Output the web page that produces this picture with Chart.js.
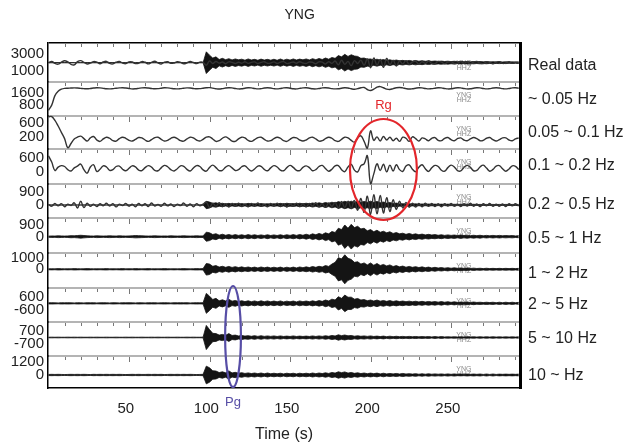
<!DOCTYPE html>
<html>
<head>
<meta charset="utf-8">
<script src="https://cdn.jsdelivr.net/npm/chart.js@4.4.0/dist/chart.umd.min.js"></script>
<style>
  html, body { margin: 0; padding: 0; background: #fff; }
  #wrap { width: 627px; height: 444px; }
</style>
</head>
<body>
<div id="wrap"><canvas id="myChart"></canvas></div>
<script>
// DATA

// one sample every 2 s, from t = 2 s to t = 294 s
var t0 = 2, dt = 2, nSamples = 147;

var names = ['Real data', '~ 0.05 Hz', '0.05 ~ 0.1 Hz', '0.1 ~ 0.2 Hz', '0.2 ~ 0.5 Hz',
  '0.5 ~ 1 Hz', '1 ~ 2 Hz', '2 ~ 5 Hz', '5 ~ 10 Hz', '10 ~ Hz'];

// tick labels of each panel (counts)
var panelTicks = [[3000, 1000], [1600, 800], [600, 200], [600, 0], [900, 0],
  [900, 0], [1000, 0], [600, -600], [700, -700], [1200, 0]];

var timeTicks = [50, 100, 150, 200, 250];

// trace offsets (counts)
var offsets = [1960, 1940, 143, 152, 0, 0, 0, 0, 0, 0];

// low frequency part of the traces (counts around offset)
var waveReal = [
  0, 150, -80, -180, 60, 240, 100, -200, -260, 120,
  250, 40, -150, -60, 130, 60, -120, 80, 160, -90,
  -150, 60, 140, -40, -120, 100, 80, -110, -60, 130,
  50, -140, 40, 170, -30, -150, 60, 120, -80, -40,
  110, 40, -130, -20, 140, 20, -110, 60, 30, -300,
  200, -100, 150, -50, 80, -120, 100, 40, -90, 60,
  -60, 110, -80, 40, 90, -100, 30, 120, -70, -40,
  100, -80, 60, 130, -110, -30, 90, -60, 120, -40,
  -100, 80, 40, -120, 100, 60, -150, 120, -80, 200,
  -250, 300, -200, 150, -350, 250, -100, 300, -300, 450,
  -600, 550, -300, 400, -550, 500, -250, 300, -400, 200,
  -150, 250, -200, 100, 150, -180, 120, -100, 200, -80,
  -120, 150, 80, -140, 60, 120, -100, -60, 130, -50,
  100, -120, 80, 140, -60, -110, 90, 50, -130, 70,
  120, -90, -40, 110, -70, 60, -50];

var wave005 = [
  -1500, -1150, -500, -200, -60, 0, 10, 20, 30, 20,
  0, -20, -30, -10, 20, 40, 30, 0, -30, -40,
  -20, 10, 30, 40, 20, -10, -40, -30, 0, 30,
  40, 20, -10, -30, -20, 10, 40, 30, 0, -30,
  -40, -20, 10, 30, 20, -10, -30, -20, 10, 40,
  50, 10, -30, -50, -20, 20, 40, 30, -10, -40,
  -30, 10, 40, 30, -10, -40, -20, 20, 40, 20,
  -20, -40, -10, 30, 40, 10, -30, -40, 0, 30,
  40, 10, -30, -40, -10, 30, 40, 20, -20, -40,
  -30, 10, 40, 20, -30, -60, -20, 40, 60, -80,
  -150, -60, 80, 120, 40, -50, -80, -20, 40, 60,
  30, -20, -50, -30, 10, 40, 30, -10, -40, -20,
  10, 40, 30, -10, -40, -30, 10, 40, 30, -10,
  -40, -30, 10, 40, 30, -10, -40, -20, 20, 40,
  20, -20, -40, -10, 30, 40, 10];

var wave01 = [
  640, 650, 540, 380, 200, 20, -240, -120, 10, 60,
  90, 20, -50, 40, 80, -20, -60, 10, 60, 30,
  -40, -50, 20, 60, 30, -30, -50, 0, 50, 40,
  -20, -60, -10, 50, 60, 0, -50, -30, 30, 60,
  20, -40, -50, 10, 60, 40, -20, -50, 0, 60,
  70, 10, -60, -40, 30, 70, 20, -50, -60, 10,
  60, 40, -30, -60, -10, 50, 60, 0, -50, -40,
  20, 60, 30, -40, -60, 0, 50, 40, -20, -50,
  -20, 40, 60, 10, -50, -40, 20, 60, 30, -40,
  -60, 0, 60, 40, -30, -80, 40, 100, -60, -250,
  240, -30, 70, -50, 80, -20, 60, -40, 30, -60,
  60, 30, -60, 70, 20, -50, 40, 10, -40, 30,
  50, -30, -40, 30, 50, -10, -40, 20, 40, -20,
  -40, 10, 50, 20, -40, -30, 30, 50, -10, -50,
  -10, 40, 40, -20, -40, 10, 40];

var wave02 = [
  560, 280, -100, 50, 120, 80, -60, -120, 20, 100,
  190, -60, -220, 60, 160, -140, -40, 110, 60, -90,
  -60, 80, 100, -40, -110, 0, 110, 60, -80, -100,
  30, 120, 50, -90, -110, 20, 130, 70, -60, -120,
  -20, 110, 90, -50, -120, 10, 120, 80, -70, -130,
  40, 140, 30, -100, -90, 50, 120, 20, -100, -60,
  70, 110, -20, -120, -30, 100, 90, -50, -110, 20,
  120, 60, -80, -110, 30, 130, 40, -90, -100, 40,
  110, 30, -110, -60, 80, 130, -10, -130, -40, 110,
  120, -60, -150, 60, 180, -80, -160, 120, 200, 560,
  -680, -250, 200, -100, 180, -160, 140, -120, 160, -60,
  -140, 100, 150, -40, -150, 50, 160, -20, -140, 20,
  130, 80, -90, -130, 30, 140, 60, -100, -120, 40,
  130, 40, -110, -90, 60, 140, 10, -130, -50, 100,
  120, -20, -130, -30, 110, 90, -60];

var wave05 = [
  50, -80, 110, -60, 90, -120, 60, -30, 150, -200,
  250, -180, 120, -90, 60, -110, 80, -50, 120, -70,
  90, -130, 60, -40, 110, -80, 50, -120, 100, -60,
  80, -100, 140, -70, 40, -90, 120, -60, 70, -110,
  60, -40, 130, -90, 70, -120, 90, -50, 60, 200,
  -180, 120, -90, 150, -110, 80, -140, 100, -60, 120,
  -100, 70, -130, 110, -80, 140, -90, 60, -120, 100,
  -70, 130, -100, 90, -140, 70, -60, 120, -110, 80,
  -130, 100, -70, 150, -120, 90, -160, 140, -100, 180,
  -200, 240, -180, 260, -220, 300, -350, 450, -500, 600,
  -650, 700, -600, 650, -550, 500, -450, 350, -300, 250,
  -200, 180, -150, 120, -140, 100, -120, 130, -90, 110,
  -100, 80, -120, 90, -70, 110, -80, 60, -100, 90,
  -70, 120, -90, 70, -110, 80, -60, 100, -80, 60,
  -90, 70, -100, 80, -60, 90, -70];

// high frequency part: half width of the dark band (counts)
var envReal = [
  0, 0, 0, 0, 0, 0, 0, 0, 0, 0,
  0, 0, 0, 0, 0, 0, 0, 0, 0, 0,
  0, 0, 0, 0, 0, 0, 0, 0, 0, 0,
  0, 0, 0, 0, 0, 0, 0, 0, 0, 0,
  0, 0, 0, 0, 0, 0, 0, 0, 0, 1300,
  900, 550, 700, 380, 520, 360, 480, 330, 450, 340,
  420, 300, 450, 320, 400, 290, 430, 310, 400, 300,
  410, 290, 440, 300, 420, 310, 450, 320, 430, 340,
  450, 330, 480, 360, 500, 380, 560, 420, 620, 520,
  850, 700, 1000, 750, 950, 800, 750, 520, 560, 420,
  450, 320, 420, 300, 380, 260, 350, 240, 320, 220,
  280, 200, 270, 190, 260, 180, 240, 170, 220, 160,
  200, 150, 190, 140, 180, 130, 170, 120, 160, 120,
  150, 110, 140, 100, 140, 100, 130, 90, 120, 90,
  110, 90, 110, 80, 100, 80, 100];

var env05 = [
  0, 0, 0, 0, 0, 0, 0, 0, 0, 0,
  0, 0, 0, 0, 0, 0, 0, 0, 0, 0,
  0, 0, 0, 0, 0, 0, 0, 0, 0, 0,
  0, 0, 0, 0, 0, 0, 0, 0, 0, 0,
  0, 0, 0, 0, 0, 0, 0, 0, 0, 250,
  200, 110, 150, 80, 120, 70, 110, 60, 100, 70,
  100, 60, 110, 70, 90, 60, 100, 70, 90, 60,
  90, 60, 110, 70, 120, 80, 100, 70, 120, 80,
  120, 80, 140, 90, 150, 100, 170, 110, 190, 130,
  230, 170, 250, 180, 260, 170, 260, 180, 240, 190,
  260, 180, 240, 160, 200, 130, 170, 100, 130, 80,
  90, 60, 90, 60, 80, 50, 70, 50, 70, 50,
  60, 40, 60, 40, 60, 40, 50, 40, 50, 40,
  50, 30, 50, 30, 40, 30, 40, 30, 40, 30,
  40, 30, 40, 30, 40, 30, 40];

var env1 = [
  40, 60, 50, 70, 60, 50, 60, 80, 70, 90,
  110, 90, 70, 60, 50, 70, 60, 50, 60, 70,
  60, 50, 70, 60, 50, 60, 70, 90, 80, 70,
  60, 50, 60, 70, 60, 50, 60, 50, 70, 60,
  50, 60, 70, 60, 50, 60, 70, 60, 60, 350,
  300, 170, 230, 120, 190, 110, 170, 100, 160, 100,
  150, 90, 160, 100, 150, 90, 140, 90, 150, 90,
  140, 90, 150, 90, 150, 100, 160, 100, 170, 110,
  190, 120, 220, 150, 250, 170, 300, 220, 400, 320,
  650, 550, 900, 650, 950, 700, 800, 600, 650, 450,
  550, 380, 500, 340, 420, 300, 380, 250, 320, 220,
  270, 180, 250, 170, 220, 150, 200, 140, 180, 130,
  160, 110, 150, 100, 140, 100, 130, 90, 130, 90,
  120, 80, 110, 80, 110, 70, 100, 70, 100, 70,
  100, 70, 90, 70, 90, 60, 80];

var env2 = [
  40, 50, 40, 60, 50, 40, 50, 40, 60, 50,
  40, 50, 60, 50, 40, 50, 40, 50, 60, 40,
  50, 40, 50, 60, 40, 50, 40, 60, 50, 40,
  50, 60, 40, 50, 40, 50, 60, 50, 40, 50,
  40, 50, 60, 50, 40, 50, 60, 50, 60, 500,
  450, 260, 320, 190, 260, 170, 250, 160, 230, 150,
  210, 140, 200, 130, 190, 120, 200, 130, 190, 120,
  180, 120, 190, 110, 180, 120, 190, 120, 200, 140,
  210, 150, 240, 170, 260, 200, 320, 250, 450, 600,
  1000, 900, 1250, 950, 850, 600, 650, 450, 550, 380,
  550, 350, 500, 330, 420, 290, 380, 240, 320, 210,
  280, 180, 250, 170, 230, 150, 210, 140, 190, 120,
  170, 110, 150, 100, 140, 90, 130, 90, 120, 80,
  110, 70, 100, 70, 90, 60, 90, 60, 80, 60,
  80, 60, 80, 60, 80, 60, 80];

var env5 = [
  50, 60, 50, 40, 60, 50, 60, 50, 40, 60,
  50, 40, 60, 50, 60, 40, 50, 60, 50, 40,
  60, 50, 40, 60, 50, 60, 50, 40, 60, 50,
  40, 60, 50, 60, 40, 50, 60, 50, 40, 60,
  50, 60, 50, 60, 40, 50, 60, 50, 60, 900,
  650, 350, 450, 230, 320, 220, 360, 200, 260, 170,
  240, 160, 230, 150, 220, 140, 230, 150, 220, 140,
  210, 140, 220, 130, 200, 140, 210, 130, 220, 150,
  210, 150, 230, 160, 250, 180, 300, 220, 380, 300,
  600, 450, 750, 550, 560, 380, 440, 300, 340, 240,
  300, 210, 300, 200, 260, 180, 250, 170, 230, 160,
  210, 150, 200, 140, 190, 130, 180, 120, 170, 120,
  160, 110, 160, 100, 150, 90, 140, 90, 120, 90,
  120, 80, 120, 80, 100, 70, 100, 70, 100, 60,
  100, 60, 100, 60, 100, 60, 90];

var env10 = [
  30, 40, 30, 40, 30, 30, 40, 30, 40, 30,
  40, 30, 30, 40, 30, 40, 30, 30, 40, 30,
  30, 40, 30, 30, 40, 30, 40, 30, 30, 40,
  30, 30, 40, 30, 40, 30, 30, 40, 30, 30,
  40, 30, 30, 40, 30, 40, 30, 30, 40, 1300,
  850, 450, 420, 260, 330, 240, 420, 220, 260, 170,
  220, 150, 200, 130, 200, 120, 190, 120, 170, 120,
  170, 110, 170, 110, 150, 110, 170, 110, 150, 110,
  150, 110, 170, 110, 170, 120, 190, 130, 220, 160,
  290, 200, 270, 180, 220, 140, 190, 130, 170, 120,
  170, 110, 150, 100, 150, 90, 140, 90, 130, 90,
  120, 80, 120, 80, 110, 70, 100, 70, 100, 60,
  100, 60, 100, 60, 80, 60, 80, 60, 80, 60,
  80, 60, 80, 50, 80, 50, 80, 50, 80, 50,
  70, 50, 70, 50, 70, 50, 70];

var envHi = [
  50, 60, 50, 60, 50, 40, 50, 60, 50, 60,
  50, 60, 50, 40, 60, 50, 60, 50, 60, 50,
  60, 50, 60, 50, 40, 50, 60, 50, 60, 50,
  50, 60, 50, 60, 50, 60, 40, 50, 60, 50,
  60, 50, 60, 50, 60, 50, 40, 50, 60, 800,
  650, 380, 360, 220, 290, 200, 370, 190, 240, 160,
  210, 140, 190, 130, 180, 120, 180, 110, 180, 110,
  160, 110, 160, 100, 160, 110, 160, 100, 160, 110,
  160, 110, 180, 120, 180, 130, 200, 140, 230, 170,
  290, 210, 280, 170, 230, 150, 200, 130, 180, 120,
  170, 120, 170, 100, 160, 100, 140, 100, 140, 90,
  140, 90, 120, 80, 120, 70, 110, 70, 110, 70,
  100, 70, 100, 60, 100, 60, 100, 60, 80, 60,
  90, 60, 90, 60, 90, 50, 90, 50, 90, 50,
  80, 60, 80, 60, 80, 60, 80];

var waves = [waveReal, wave005, wave01, wave02, wave05, null, null, null, null, null];
var envs = [envReal, null, null, null, env05, env1, env2, env5, env10, envHi];


// LAYOUT

var panelRange = [[-356, 4320], [48, 2373], [-134, 809], [-551, 1016], [-880, 1421],
  [-1254, 1438], [-1612, 1405], [-1682, 1385], [-1992, 1669], [-1173, 1714]];
var panelWeight = [39, 34, 33, 35, 34, 35, 35, 34, 34, 32];
var rowSpan = 345;
var namePos = [322, 288, 255, 222, 183, 149, 114, 83, 49, 12];

var times = [];
for (var k = 0; k < nSamples; k++) times.push(t0 + k * dt);

function pts(i, sign, arr) {
  return times.map(function(t, k) {
    return { x: t, y: offsets[i] + sign * arr[k] };
  });
}

var datasets = [];
for (var i = 0; i < names.length; i++) {
  if (waves[i]) {
    datasets.push({
      data: pts(i, 1, waves[i]), yAxisID: 'y' + i,
      borderColor: '#333', borderWidth: 1.4, tension: 0.4,
      pointRadius: 0, fill: false, clip: 8
    });
  }
  if (envs[i]) {
    datasets.push({
      data: pts(i, 1, envs[i]), yAxisID: 'y' + i,
      borderColor: '#111', borderWidth: 0.8, tension: 0,
      backgroundColor: '#141414', fill: '+1', pointRadius: 0, clip: 8
    });
    datasets.push({
      data: pts(i, -1, envs[i]), yAxisID: 'y' + i,
      borderColor: '#111', borderWidth: 0.8, tension: 0,
      pointRadius: 0, fill: false, clip: 8
    });
  }
}


// SCALES

var scales = {
  x: {
    type: 'linear', min: 1.7, max: 294.8,
    afterBuildTicks: function(axis) {
      axis.ticks = timeTicks.map(function(v) { return { value: v }; });
    },
    afterFit: function(axis) { axis.height = 56; },
    grid: { display: false, drawTicks: false },
    border: { color: '#000', width: 1.5 },
    ticks: { padding: 12, font: { size: 15 }, color: '#222', maxRotation: 0 },
    title: { display: true, text: 'Time (s)', font: { size: 16 }, color: '#222',
      padding: { top: 0, bottom: 0 } }
  },
  yr: {
    type: 'linear', position: 'right', min: 0, max: rowSpan,
    afterBuildTicks: function(axis) {
      axis.ticks = namePos.map(function(v) { return { value: v }; });
    },
    afterFit: function(axis) { axis.width = 107; },
    grid: { display: false, drawTicks: false },
    border: { color: '#000', width: 3 },
    ticks: { autoSkip: false, padding: 8, font: { size: 16 }, color: '#222',
      callback: function(v, idx) { return names[idx]; } }
  }
};

// left boxes of one stack are placed last-added on top, so add the bottom panel first
for (var p = panelTicks.length - 1; p >= 0; p--) {
  (function(i) {
    var tk = panelTicks[i], hi = panelRange[i][1];
    scales['y' + i] = {
      type: 'linear', position: 'left', stack: 'panels', stackWeight: panelWeight[i],
      min: panelRange[i][0], max: hi,
      afterBuildTicks: function(axis) {
        axis.ticks = [{ value: tk[0] }, { value: tk[1] }, { value: hi }];
      },
      afterFit: function(axis) { axis.width = 48; },
      grid: {
        drawTicks: false,
        color: function(c) {
          if (!c.tick || c.tick.value !== hi) return 'rgba(0,0,0,0)';
          return i === 0 ? '#000' : '#b4b4b4';
        },
        lineWidth: i === 0 ? 1.5 : 2
      },
      border: { color: '#000', width: 1.5 },
      ticks: { autoSkip: false, padding: 4, font: { size: 15 }, color: '#222',
        callback: function(v) { return v === hi ? '' : v; } }
    };
  })(p);
}


// MARKS: panel ticks, station labels, phase rings, title

var rgRing = { t: 210, dt: 20.8, row: 218.5, drow: 50.5, label: 'Rg', labelRow: 283, color: '#e3262b' };
var pgRing = { t: 116.6, dt: 4.9, row: 51.5, drow: 50.5, label: 'Pg', labelRow: -14, color: '#574ea6' };
var titleText = 'YNG';

var marks = {
  id: 'marks',
  beforeDatasetsDraw: function(chart) {
    var ctx = chart.ctx, xs = chart.scales.x;
    ctx.save();
    ctx.strokeStyle = '#777';
    ctx.lineWidth = 1;
    for (var i = 0; i < names.length; i++) {
      var top = chart.scales['y' + i].top;
      for (var t = 2; t < 294; t += 10) {
        var x = Math.round(xs.getPixelForValue(t)) + 0.5;
        var len = (t - 2) % 50 === 0 ? 5 : 3;
        ctx.beginPath();
        ctx.moveTo(x, top + 1);
        ctx.lineTo(x, top + 1 + len);
        ctx.stroke();
      }
      // station / channel tag
      ctx.fillStyle = '#8a8a8a';
      ctx.font = '7px "Liberation Sans", Arial, sans-serif';
      ctx.textAlign = 'center';
      ctx.textBaseline = 'middle';
      var xt = xs.getPixelForValue(260);
      var dy = i === 0 ? 20 : 13;
      ctx.fillText('YNG', xt, top + dy);
      ctx.fillText('HHZ', xt, top + dy + 5);
    }
    ctx.restore();
  },
  afterDatasetsDraw: function(chart) {
    var ctx = chart.ctx, xs = chart.scales.x, ys = chart.scales.yr;
    [rgRing, pgRing].forEach(function(r) {
      var cx = xs.getPixelForValue(r.t);
      var rx = xs.getPixelForValue(r.t + r.dt) - cx;
      var cy = ys.getPixelForValue(r.row);
      var ry = cy - ys.getPixelForValue(r.row + r.drow);
      ctx.save();
      ctx.strokeStyle = r.color;
      ctx.lineWidth = 2.2;
      ctx.beginPath();
      ctx.ellipse(cx, cy, rx, ry, 0, 0, 2 * Math.PI);
      ctx.stroke();
      ctx.fillStyle = r.color;
      ctx.font = '13px "Liberation Sans", Arial, sans-serif';
      ctx.textAlign = 'center';
      ctx.textBaseline = 'middle';
      ctx.fillText(r.label, cx, ys.getPixelForValue(r.labelRow));
      ctx.restore();
    });
    // title, centred a little left of the canvas middle as in the figure
    ctx.save();
    ctx.fillStyle = '#222';
    ctx.font = '14px "Liberation Sans", Arial, sans-serif';
    ctx.textAlign = 'center';
    ctx.textBaseline = 'middle';
    ctx.fillText(titleText, xs.getPixelForValue(158), 15);
    ctx.restore();
  }
};


// CHART

Chart.defaults.font.family = '"Liberation Sans", Arial, sans-serif';

var ctx = document.getElementById('myChart').getContext('2d');

var chart = new Chart(ctx, {
  type: 'line',
  data: { datasets: datasets },
  options: {
    responsive: true,
    maintainAspectRatio: false,
    animation: false,
    layout: { padding: { left: 0, right: 0, top: 43, bottom: 0 } },
    plugins: {
      legend: { display: false },
      tooltip: { enabled: false },
      title: { display: false }
    },
    scales: scales
  },
  plugins: [marks]
});
</script>
</body>
</html>
